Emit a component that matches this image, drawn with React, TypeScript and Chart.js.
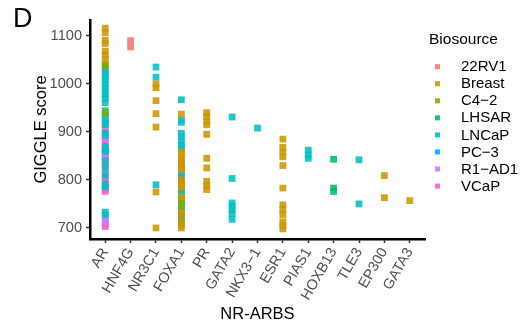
import React, { useEffect, useRef } from "react";
import { Chart, registerables } from "chart.js";
Chart.register(...registerables);

const FONT = '"Liberation Sans", Arial, Helvetica, sans-serif';

const categories = ["AR", "HNF4G", "NR3C1", "FOXA1", "PR", "GATA2", "NKX3\u22121", "ESR1", "PIAS1", "HOXB13", "TLE3", "EP300", "GATA3"];
const yTicks = [700, 800, 900, 1000, 1100];
const biosources = ["22RV1", "Breast", "C4\u22122", "LHSAR", "LNCaP", "PC\u22123", "R1\u2212AD1", "VCaP"];
const colors = ["#F8766D", "#CD9600", "#7CAE00", "#00BE67", "#00BFC4", "#00A9FF", "#C77CFF", "#FF61CC"];

// 22RV1
const tf22RV1 = ["HNF4G", "HNF4G"];
const score22RV1 = [1090, 1077];

// Breast
const tfBreast = [
  "AR", "AR", "AR", "AR", "AR", "AR", "AR",
  "NR3C1", "NR3C1", "NR3C1", "NR3C1", "NR3C1", "NR3C1", "NR3C1",
  "FOXA1", "FOXA1", "FOXA1", "FOXA1", "FOXA1", "FOXA1", "FOXA1", "FOXA1", "FOXA1", "FOXA1", "FOXA1", "FOXA1", "FOXA1", "FOXA1", "FOXA1", "FOXA1", "FOXA1",
  "PR", "PR", "PR", "PR", "PR", "PR", "PR", "PR", "PR", "PR",
  "ESR1", "ESR1", "ESR1", "ESR1", "ESR1", "ESR1", "ESR1", "ESR1", "ESR1", "ESR1", "ESR1", "ESR1",
  "EP300", "EP300",
  "GATA3",
];
const scoreBreast = [
  1116, 1107, 1091, 1084, 1068, 1060, 1051,
  1000, 992, 965, 938, 910, 775, 700,
  937, 858, 850, 843, 838, 830, 822, 800, 795, 790, 785, 765, 733, 728, 713, 706, 700,
  940, 932, 922, 915, 895, 845, 825, 797, 788, 780,
  885, 868, 858, 848, 830, 783, 748, 738, 728, 713, 705, 698,
  809, 763,
  757,
];

// C4-2
const tfC42 = ["AR", "AR", "AR", "FOXA1", "FOXA1"];
const scoreC42 = [1041, 1037, 940, 760, 748];

// LHSAR
const tfLHSAR = ["HOXB13", "HOXB13", "HOXB13"];
const scoreLHSAR = [843, 783, 776];

// LNCaP
const tfLNCaP = [
  "AR", "AR", "AR", "AR", "AR", "AR", "AR", "AR", "AR", "AR", "AR", "AR", "AR", "AR", "AR", "AR", "AR", "AR", "AR", "AR", "AR", "AR", "AR", "AR", "AR", "AR",
  "NR3C1", "NR3C1", "NR3C1",
  "FOXA1", "FOXA1", "FOXA1", "FOXA1", "FOXA1", "FOXA1", "FOXA1", "FOXA1", "FOXA1", "FOXA1", "FOXA1", "FOXA1", "FOXA1", "FOXA1", "FOXA1", "FOXA1", "FOXA1",
  "GATA2", "GATA2", "GATA2", "GATA2", "GATA2", "GATA2", "GATA2",
  "NKX3\u22121",
  "PIAS1", "PIAS1", "PIAS1",
  "TLE3", "TLE3",
];
const scoreLNCaP = [
  1030, 1022, 1015, 1008, 1000, 993, 985, 978, 970, 961, 944, 938, 930, 922, 915, 898, 893, 870, 860, 840, 825, 810, 792, 785, 733, 728,
  1035, 1014, 790,
  967, 925, 920, 897, 890, 880, 872, 865, 808, 775, 770, 757, 750, 742, 738, 725, 718,
  931, 803, 752, 745, 738, 730, 718,
  908,
  862, 852, 845,
  842, 750,
];

// PC-3
const tfPC3 = ["AR"];
const scorePC3 = [862];

// R1-AD1
const tfR1AD1 = ["AR", "AR", "AR", "AR", "AR", "AR", "FOXA1", "FOXA1"];
const scoreR1AD1 = [918, 888, 855, 848, 720, 714, 818, 803];

// VCaP
const tfVCaP = [
  "AR", "AR", "AR", "AR", "AR", "AR", "AR", "AR", "AR", "AR", "AR", "AR", "AR", "AR", "AR",
  "FOXA1", "FOXA1", "FOXA1", "FOXA1", "FOXA1", "FOXA1",
];
const scoreVCaP = [
  905, 885, 878, 865, 850, 835, 830, 815, 805, 800, 788, 780, 776, 708, 703,
  834, 826, 815, 812, 808, 783,
];

const seriesTf = [tf22RV1, tfBreast, tfC42, tfLHSAR, tfLNCaP, tfPC3, tfR1AD1, tfVCaP];
const seriesScore = [score22RV1, scoreBreast, scoreC42, scoreLHSAR, scoreLNCaP, scorePC3, scoreR1AD1, scoreVCaP];

function hexA(hex: string, a: number) {
  const n = parseInt(hex.slice(1), 16);
  return `rgba(${(n >> 16) & 255},${(n >> 8) & 255},${n & 255},${a})`;
}

const overlayPlugin = {
  id: "overlay",
  afterDraw(chart: any) {
    const ctx = chart.ctx;
    ctx.save();
    ctx.fillStyle = "#000";
    ctx.textBaseline = "alphabetic";
    ctx.textAlign = "left";
    ctx.font = `27px ${FONT}`;
    ctx.fillText("D", 13, 27);

    ctx.textBaseline = "middle";
    ctx.font = `15.5px ${FONT}`;
    ctx.fillText("Biosource", 429, 40);
    ctx.font = `15px ${FONT}`;
    biosources.forEach((name, i) => {
      const y = 66.7 + i * 17.05;
      ctx.fillStyle = hexA(colors[i], 0.9);
      ctx.fillRect(435, y - 2.5, 5, 5);
      ctx.fillStyle = "#000";
      ctx.fillText(name, 461, y + 0.5);
    });
    ctx.restore();
  },
};

export default function App() {
  const ref = useRef<HTMLCanvasElement | null>(null);
  useEffect(() => {
    if (!ref.current) return;
    const datasets = biosources.map((name, i) => ({
      label: name,
      data: seriesTf[i].map((tf, j) => ({ x: categories.indexOf(tf), y: seriesScore[i][j] })),
      backgroundColor: hexA(colors[i], 0.88),
      borderWidth: 0,
      pointStyle: "rect",
      pointRadius: 4.8,
      pointHoverRadius: 4.8,
      clip: false,
    }));
    const chart = new Chart(ref.current, {
      type: "scatter",
      data: { datasets } as any,
      options: {
        animation: false,
        responsive: false,
        events: [],
        layout: { padding: { left: 0, top: 20, right: 97, bottom: 0 } },
        plugins: { legend: { display: false }, tooltip: { enabled: false } },
        scales: {
          x: {
            type: "linear",
            min: -0.6,
            max: 12.6,
            afterBuildTicks: (s: any) => {
              s.ticks = categories.map((_, i) => ({ value: i }));
            },
            afterFit: (s: any) => {
              s.height = 87;
            },
            ticks: {
              autoSkip: false,
              minRotation: 60,
              maxRotation: 60,
              padding: 2,
              color: "#4D4D4D",
              font: { size: 14.5, family: FONT },
              callback: (v: any) => categories[Math.round(Number(v))],
            },
            grid: { drawOnChartArea: false, drawTicks: true, tickLength: 4, tickColor: "#333", tickWidth: 1.5 },
            border: { display: true, color: "#000", width: 2.5 },
            title: { display: true, text: "NR-ARBS", color: "#000", font: { size: 16.5, family: FONT }, padding: { top: 0, bottom: 2 } },
          },
          y: {
            type: "linear",
            min: 677,
            max: 1133,
            afterBuildTicks: (s: any) => {
              s.ticks = yTicks.map((v) => ({ value: v }));
            },
            afterFit: (s: any) => {
              s.width = 90;
            },
            ticks: {
              padding: 4,
              color: "#4D4D4D",
              font: { size: 14.6, family: FONT },
              callback: (v: any) => String(v),
            },
            grid: { drawOnChartArea: false, drawTicks: true, tickLength: 4, tickColor: "#333", tickWidth: 1.5 },
            border: { display: true, color: "#000", width: 2.5 },
            title: { display: true, text: "GIGGLE score", color: "#000", font: { size: 16.5, family: FONT }, padding: { top: 31.5, bottom: 0 } },
          },
        },
      } as any,
      plugins: [overlayPlugin],
    });
    return () => chart.destroy();
  }, []);
  return (
    <div style={{ position: "fixed", left: 0, top: 0, width: 522, height: 326, background: "#fff" }}>
      <canvas ref={ref} width={522} height={326} style={{ display: "block", width: 522, height: 326 }} />
    </div>
  );
}
